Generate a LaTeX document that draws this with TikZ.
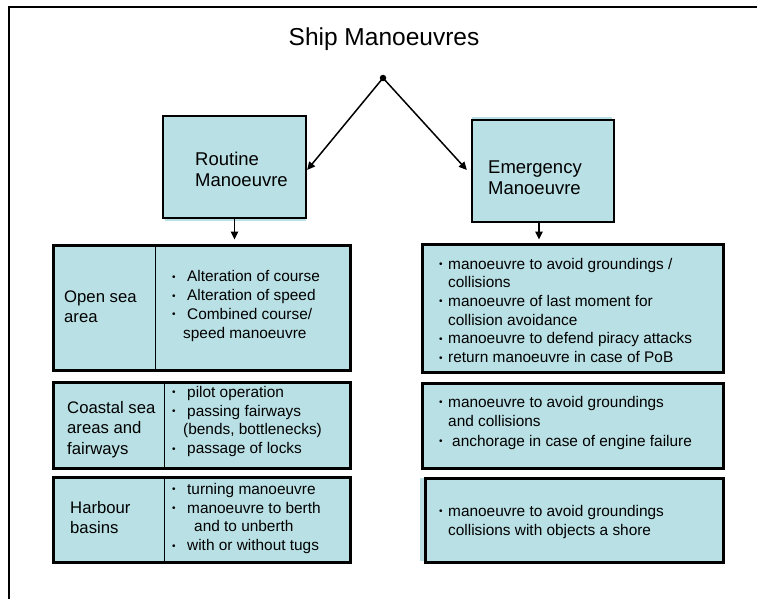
\documentclass[tikz,border=0pt]{standalone}
\usepackage{fontspec}
\setmainfont{Liberation Sans}
\usetikzlibrary{arrows.meta}
\definecolor{boxfill}{RGB}{185,224,228}
\newcommand{\bul}[1]{\makebox[#1][l]{\raisebox{1.5pt}{\fontsize{10}{10}\selectfont\textbullet}}}
\begin{document}
\begin{tikzpicture}[x=1pt,y=-1pt,
  box/.style={draw, line width=3pt, fill=boxfill, rectangle, inner sep=0pt},
  headbox/.style={draw, line width=2.3pt, fill=boxfill, rectangle, inner sep=0pt},
  body/.style={font=\fontsize{15.4}{18.7}\selectfont, align=left, inner sep=0pt, anchor=base west},
  lab/.style={font=\fontsize{16.7}{20.5}\selectfont, align=left, inner sep=0pt, anchor=base west},
  head/.style={font=\fontsize{18.5}{21.5}\selectfont, align=left, inner sep=0pt, anchor=base west},
  divider/.style={line width=1pt},
  arr/.style={line width=1.5pt, -{Triangle[length=8pt,width=7.5pt]}}]
\useasboundingbox (0,0) rectangle (757,599);
% outer frame
\draw[line width=2.2pt] (9,599) -- (9,7) -- (757,7);
% title
\node[font=\fontsize{24.5}{28}\selectfont, inner sep=0pt, anchor=base] (title) at (384,46) {Ship Manoeuvres};
\node[circle, fill=black, inner sep=0pt, minimum size=6.5pt] (top) at (383,78) {};
% head boxes
\fill[boxfill] (165,216) rectangle (306,221);
\node[headbox, minimum width=143pt, minimum height=102pt] (routine) at (234.5,167) {};
\node[head] (routinetxt) at (195,186.5) {Routine\\Manoeuvre};
\fill[boxfill] (472,117) rectangle (612,122);
\node[headbox, minimum width=142pt, minimum height=102pt] (emerg) at (543,171) {};
\node[head] (emergtxt) at (488,194.5) {Emergency\\Manoeuvre};
% connectors
\draw[arr] (top.center) -- ([yshift=-3pt]routine.east);
\draw[arr] (top.center) -- ([xshift=-4pt,yshift=1pt]emerg.west);
% left boxes
\node[box, minimum width=297pt, minimum height=125pt] (open) at (201.5,307.5) {};
\node[box, minimum width=297pt, minimum height=86pt] (coastal) at (201.5,425) {};
\node[box, minimum width=297pt, minimum height=85pt] (harbour) at (201.5,519.5) {};
\draw[divider] (155,245) -- (155,370);
\draw[divider] (164,382) -- (164,468);
\draw[divider] (164,477) -- (164,562);
% right boxes
\node[box, minimum width=301pt, minimum height=128pt] (r1) at (572.5,308) {};
\node[box, minimum width=301pt, minimum height=85pt] (r2) at (572.5,425.5) {};
\fill[boxfill] (420,478) rectangle (425,561);
\node[box, minimum width=298pt, minimum height=84pt] (r3) at (574,520) {};
% down arrows
\draw[arr, shorten >=4pt] (routine.south) -- (routine.south |- open.north);
\draw[arr, shorten >=3pt] ([xshift=-4pt]emerg.south) -- ([xshift=-4pt]emerg.south |- r1.north);
% left labels
\node[lab] (opentxt) at (64,322.5) {Open sea\\area};
\node[lab] (coastaltxt) at (67,454) {Coastal sea\\areas and\\fairways};
\node[lab] (harbourtxt) at (70,533.5) {Harbour\\basins};
% left bullet lists
\node[body] (openlist) at (172,338) {\bul{15pt}Alteration of course\\\bul{15pt}Alteration of speed\\\bul{15pt}Combined course/\\\hspace{11pt}speed manoeuvre};
\node[body] (coastallist) at (172,453.5) {\bul{15pt}pilot operation\\\bul{15pt}passing fairways\\\hspace{11pt}(bends, bottlenecks)\\\bul{15pt}passage of locks};
\node[body] (harbourlist) at (172,550.5) {\bul{15pt}turning manoeuvre\\\bul{15pt}manoeuvre to berth\\\hspace{22pt}and to unberth\\\bul{15pt}with or without tugs};
% right bullet lists
\node[body] (r1list) at (439,362.5) {\bul{9pt}manoeuvre to avoid groundings /\\\hspace{9pt}collisions\\\bul{9pt}manoeuvre of last moment for\\\hspace{9pt}collision avoidance\\\bul{9pt}manoeuvre to defend piracy attacks\\\bul{9pt}return manoeuvre in case of PoB};
\node[body, font=\fontsize{15.4}{19.5}\selectfont] (r2list) at (439,446) {\bul{9pt}manoeuvre to avoid groundings\\\hspace{9pt}and collisions\\\bul{13pt}anchorage in case of engine failure};
\node[body] (r3list) at (439,535) {\bul{9pt}manoeuvre to avoid groundings\\\hspace{9pt}collisions with objects a shore};
\end{tikzpicture}
\end{document}
